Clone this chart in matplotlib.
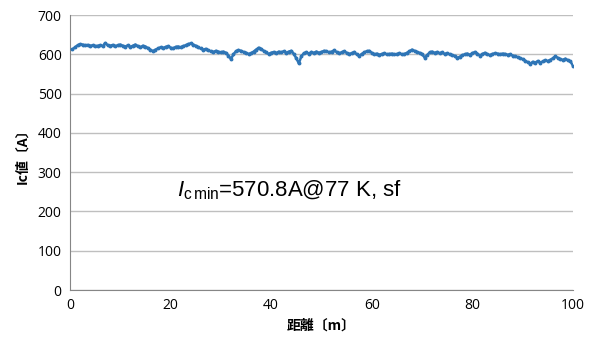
import numpy as np
import matplotlib
matplotlib.use('Agg')
import matplotlib.pyplot as plt

plt.rcParams['mathtext.fontset'] = 'custom'
plt.rcParams['mathtext.rm'] = 'Liberation Sans'
plt.rcParams['mathtext.it'] = 'Liberation Sans:italic'

# 距離 [m] 0.5 m 間隔
dist = np.arange(0.5, 100.01, 0.5)

# Ic値 [A]
ic = [613, 618, 623, 626, 625, 623, 624, 622, 623, 621,
      622, 623, 621, 629, 623, 622, 624, 621, 623, 625,
      622, 620, 623, 619, 622, 625, 621, 618, 622, 620,
      616, 612, 608, 612, 615, 618, 616, 619, 621, 617,
      615, 619, 620, 618, 621, 623, 626, 628, 625, 622,
      618, 615, 612, 614, 610, 608, 606, 609, 607, 605,
      607, 604, 597, 588, 600, 608, 611, 609, 606, 604,
      601, 603, 607, 612, 617, 614, 609, 605, 601, 604,
      606, 603, 607, 605, 608, 604, 607, 609, 601, 590,
      577, 595, 603, 605, 602, 606, 604, 607, 604, 606,
      609, 608, 605, 607, 610, 606, 603, 605, 608, 604,
      601, 603, 606, 600, 596, 601, 605, 608, 609, 604,
      600, 602, 599, 601, 603, 600, 601, 602, 600, 601,
      603, 600, 601, 604, 608, 612, 609, 606, 604, 601,
      592, 598, 605, 607, 604, 606, 603, 605, 601, 603,
      600, 598, 596, 591, 594, 598, 600, 602, 599, 603,
      606, 602, 597, 601, 604, 600, 598, 601, 603, 602,
      600, 602, 601, 599, 600, 597, 595, 593, 590, 588,
      584, 580, 576, 581, 579, 583, 579, 582, 585, 583,
      586, 590, 595, 591, 588, 586, 589, 585, 582, 571]

xticks = [0, 20, 40, 60, 80, 100]
yticks = [0, 100, 200, 300, 400, 500, 600, 700]

fig = plt.figure(figsize=(5.9, 3.43), dpi=100)
ax = fig.add_axes([0.1186, 0.1545, 0.8525, 0.8015])

ax.plot(dist, ic, color='#2E75B6', lw=1.8, marker='o', ms=1.8, zorder=3)

ax.set_xlim(0, 100)
ax.set_ylim(0, 700)
ax.set_xticks(xticks)
ax.set_yticks(yticks)
ax.tick_params(length=0, labelsize=10, pad=6)
for lab in ax.get_xticklabels() + ax.get_yticklabels():
    lab.set_fontfamily('Open Sans')
ax.grid(axis='y', color='#BFBFBF', lw=1)
ax.set_axisbelow(True)
for s in ['top', 'right']:
    ax.spines[s].set_visible(False)
for s in ['left', 'bottom']:
    ax.spines[s].set_color('#868686')

ax.set_xlabel('距離〔m〕', fontfamily='Noto Sans CJK JP', fontweight='bold', fontsize=10, labelpad=4)
ax.set_ylabel('Ic値〔A〕', fontfamily='Noto Sans CJK JP', fontweight='bold', fontsize=10, labelpad=6)

ax.text(21.3, 254, r'$\mathit{I}_{\mathrm{c\,min}}$=570.8A@77 K, sf',
        fontfamily='Liberation Sans', fontsize=16, va='center')

fig.savefig('out.png', dpi=100)
